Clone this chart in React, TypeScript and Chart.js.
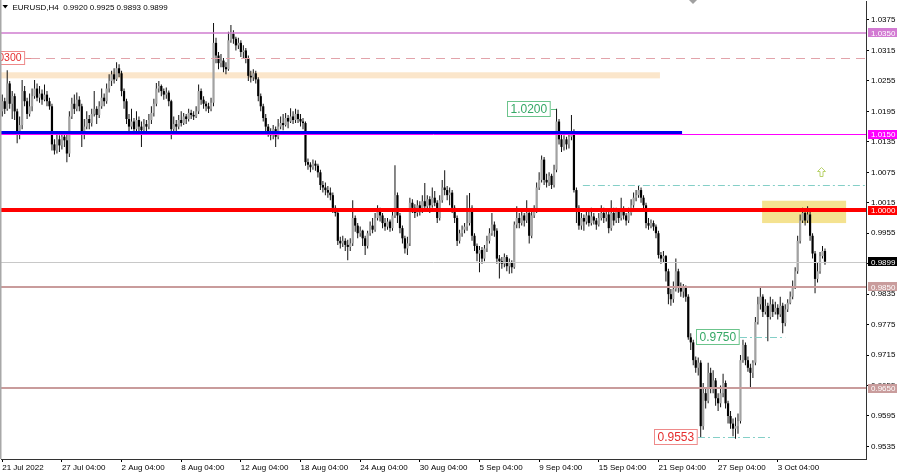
import React, { useEffect, useRef } from "react";
import { Chart, registerables } from "chart.js";

Chart.register(...registerables);

// ---------- axis data ----------
const SLOT_COUNT = 348;
const X_TICK_INDEX = [0, 24, 48, 72, 96, 120, 144, 168, 192, 216, 240, 264, 288, 312];
const X_TICK_TEXT = [
  "21 Jul 2022", "27 Jul 04:00", "2 Aug 04:00", "8 Aug 04:00", "12 Aug 04:00", "18 Aug 04:00",
  "24 Aug 04:00", "30 Aug 04:00", "5 Sep 04:00", "9 Sep 04:00", "15 Sep 04:00", "21 Sep 04:00",
  "27 Sep 04:00", "3 Oct 04:00",
];
const Y_TICKS = [1.0375, 1.0315, 1.0255, 1.0195, 1.0135, 1.0075, 1.0015, 0.9955, 0.9895, 0.9835, 0.9775, 0.9715, 0.9655, 0.9595, 0.9535];
const Y_MIN = 0.95103;
const Y_MAX = 1.04124;

// ---------- EURUSD H4 candles (price * 10000) ----------
const OPEN = [
  10195,10215,10200,10250,10210,10225,10195,10150,10168,10235,
  10215,10190,10205,10225,10240,10222,10230,10218,10228,10215,
  10205,10130,10118,10140,10128,10145,10138,10112,10185,10210,
  10200,10218,10205,10150,10165,10180,10172,10190,10200,10188,
  10205,10222,10215,10240,10255,10268,10258,10280,10270,10235,
  10215,10180,10165,10175,10160,10178,10165,10158,10170,10165,
  10178,10192,10210,10240,10245,10235,10228,10232,10215,10160,
  10170,10165,10178,10172,10185,10180,10192,10188,10185,10195,
  10235,10218,10210,10205,10200,10212,10330,10305,10290,10295,
  10282,10278,10335,10348,10338,10325,10330,10312,10315,10300,
  10265,10262,10270,10258,10225,10205,10182,10165,10155,10148,
  10160,10145,10165,10172,10168,10182,10175,10185,10178,10190,
  10180,10175,10172,10095,10090,10085,10092,10088,10075,10050,
  10045,10040,10035,10030,10005,9995,9940,9935,9940,9932,
  9928,9935,9985,9970,9955,9960,9945,9930,9955,9970,
  9962,9985,9998,9990,9975,9968,9978,9965,9990,10030,
  9990,9965,9945,9925,9935,10015,10005,9995,10010,10000,
  10018,10008,10022,10010,10025,10015,9985,10020,10045,10040,
  10030,10035,10005,9985,9940,9955,9962,9968,9975,10005,
  9950,9930,9915,9922,9905,9925,9940,9955,9972,9960,
  9905,9900,9895,9908,9890,9898,9888,9972,9985,9975,
  9990,9980,9995,9950,9990,10000,10045,10060,10100,10060,
  10055,10068,10050,10080,10175,10140,10125,10140,10130,10145,
  10155,10040,10005,9970,9985,9978,9990,9975,9988,9980,
  9972,9985,9995,9985,9992,9965,9995,9980,9998,9985,
  10000,9990,9980,9995,10010,10025,10030,10040,10025,10010,
  9975,9970,9975,9968,9955,9912,9905,9910,9880,9835,
  9825,9845,9880,9850,9840,9848,9830,9750,9740,9705,
  9690,9700,9575,9640,9625,9680,9650,9665,9630,9620,
  9640,9660,9620,9595,9580,9570,9575,9585,9705,9735,
  9705,9690,9680,9700,9780,9815,9830,9800,9812,9790,
  9815,9800,9808,9795,9812,9778,9805,9818,9830,9850,
  9880,9940,9980,9995,9980,9992,9950,9915,9865,9880,
  9910,9920,
];
const HIGH = [
  10228,10222,10276,10255,10235,10230,10200,10185,10257,10245,
  10222,10230,10240,10257,10250,10245,10238,10248,10235,10222,
  10210,10140,10150,10148,10155,10150,10150,10195,10222,10228,
  10232,10225,10210,10180,10195,10188,10200,10235,10205,10215,
  10240,10230,10250,10268,10275,10280,10292,10288,10275,10240,
  10220,10190,10200,10182,10195,10185,10175,10180,10178,10190,
  10205,10220,10251,10255,10248,10240,10242,10236,10218,10185,
  10178,10188,10195,10192,10190,10200,10198,10195,10205,10248,
  10240,10225,10215,10212,10222,10369,10340,10312,10308,10300,
  10292,10352,10365,10355,10342,10340,10335,10325,10320,10305,
  10275,10278,10275,10262,10230,10210,10190,10170,10162,10168,
  10165,10180,10185,10190,10192,10188,10201,10195,10200,10198,
  10190,10182,10175,10102,10095,10100,10098,10092,10080,10058,
  10055,10048,10045,10035,10010,9998,9948,9950,9945,9942,
  9945,10020,9990,9975,9968,9962,9950,9960,9978,9985,
  9995,10010,10005,9995,9985,9985,9982,10000,10089,10035,
  9995,9970,9950,9948,10025,10022,10012,10020,10018,10030,
  10054,10030,10028,10045,10038,10020,10030,10060,10079,10048,
  10045,10040,10010,9990,9962,9970,9975,10030,10034,10010,
  9955,9935,9930,9928,9932,9950,9965,9995,9978,9965,
  9912,9908,9915,9912,9905,9902,9978,10008,9995,10000,
  9995,10020,10000,10000,10010,10055,10075,10108,10105,10072,
  10075,10072,10090,10200,10180,10150,10148,10145,10152,10188,
  10160,10045,10010,9995,9992,10000,9998,10005,9995,9985,
  9995,10010,10005,10000,9998,10020,10005,10005,10002,10025,
  10008,9995,10005,10022,10035,10040,10050,10045,10030,10015,
  9985,9982,9980,9972,9960,9918,9920,9912,9885,9845,
  9860,9905,9885,9858,9855,9852,9835,9758,9745,9712,
  9710,9705,9660,9650,9700,9690,9685,9670,9640,9655,
  9678,9665,9625,9605,9590,9592,9600,9715,9745,9740,
  9712,9698,9705,9790,9830,9850,9835,9825,9818,9830,
  9825,9820,9815,9830,9818,9815,9825,9840,9862,9888,
  9950,9992,10005,10000,10008,10000,9955,9920,9898,9918,
  9930,9925,
];
const LOW = [
  10185,10190,10196,10200,10180,10178,10132,10140,10160,10205,
  10180,10185,10195,10220,10215,10212,10208,10215,10205,10198,
  10118,10110,10112,10115,10120,10125,10095,10105,10180,10190,
  10195,10195,10125,10140,10160,10160,10165,10185,10170,10182,
  10200,10205,10210,10232,10245,10250,10255,10262,10225,10200,
  10170,10155,10160,10150,10155,10155,10125,10150,10155,10160,
  10170,10185,10205,10232,10225,10218,10220,10205,10140,10155,
  10152,10160,10165,10168,10170,10175,10180,10178,10182,10190,
  10208,10200,10195,10192,10195,10205,10290,10278,10282,10272,
  10268,10275,10330,10328,10315,10318,10302,10300,10290,10255,
  10252,10255,10250,10215,10195,10175,10155,10145,10138,10140,
  10125,10140,10160,10158,10165,10162,10172,10170,10172,10172,
  10165,10160,10088,10080,10075,10080,10078,10065,10040,10035,
  10030,10025,10020,9995,9988,9932,9925,9928,9920,9902,
  9920,9930,9958,9945,9948,9930,9912,9925,9950,9955,
  9958,9980,9978,9965,9960,9962,9958,9960,9985,9975,
  9955,9935,9915,9912,9930,9995,9985,9988,9990,9995,
  10000,10000,9995,10005,10008,9975,9980,10015,10030,10020,
  10010,9995,9975,9930,9935,9948,9955,9960,9970,9940,
  9920,9900,9878,9895,9900,9918,9935,9950,9948,9895,
  9866,9885,9888,9880,9875,9876,9885,9965,9965,9970,
  9968,9975,9935,9945,9985,9995,10040,10055,10050,10045,
  10048,10042,10045,10075,10130,10115,10118,10120,10122,10138,
  10035,9975,9962,9962,9960,9972,9968,9970,9972,9962,
  9968,9980,9975,9978,9955,9960,9970,9975,9975,9980,
  9982,9970,9975,9990,10005,10018,10025,10015,10000,9965,
  9962,9965,9960,9945,9905,9895,9898,9860,9815,9812,
  9818,9840,9838,9830,9828,9820,9745,9725,9695,9680,
  9675,9553,9568,9610,9620,9640,9640,9615,9605,9612,
  9632,9610,9580,9570,9555,9550,9560,9580,9700,9695,
  9682,9648,9670,9695,9775,9805,9790,9795,9742,9785,
  9790,9795,9785,9790,9758,9772,9800,9815,9825,9845,
  9875,9935,9975,9970,9975,9940,9905,9837,9858,9875,
  9905,9893,
];
const CLOSE = [
  10215,10200,10250,10210,10225,10195,10150,10168,10235,10215,
  10190,10205,10225,10240,10222,10230,10218,10228,10215,10205,
  10130,10118,10140,10128,10145,10138,10112,10185,10210,10200,
  10218,10205,10150,10165,10180,10172,10190,10200,10188,10205,
  10222,10215,10240,10255,10268,10258,10280,10270,10235,10215,
  10180,10165,10175,10160,10178,10165,10158,10170,10165,10178,
  10192,10210,10240,10245,10235,10228,10232,10215,10160,10170,
  10165,10178,10172,10185,10180,10192,10188,10185,10195,10235,
  10218,10210,10205,10200,10212,10330,10305,10290,10295,10282,
  10278,10335,10348,10338,10325,10330,10312,10315,10300,10265,
  10262,10270,10258,10225,10205,10182,10165,10155,10148,10160,
  10145,10165,10172,10168,10182,10175,10185,10178,10190,10180,
  10175,10172,10095,10090,10085,10092,10088,10075,10050,10045,
  10040,10035,10030,10005,9995,9940,9935,9940,9932,9928,
  9935,9985,9970,9955,9960,9945,9930,9955,9970,9962,
  9985,9998,9990,9975,9968,9978,9965,9990,10030,9990,
  9965,9945,9925,9935,10015,10005,9995,10010,10000,10018,
  10008,10022,10010,10025,10015,9985,10020,10045,10040,10030,
  10035,10005,9985,9940,9955,9962,9968,9975,10005,9950,
  9930,9915,9922,9905,9925,9940,9955,9972,9960,9905,
  9900,9895,9908,9890,9898,9888,9972,9985,9975,9990,
  9980,9995,9950,9990,10000,10045,10060,10100,10060,10055,
  10068,10050,10080,10175,10140,10125,10140,10130,10145,10155,
  10040,10005,9970,9985,9978,9990,9975,9988,9980,9972,
  9985,9995,9985,9992,9965,9995,9980,9998,9985,10000,
  9990,9980,9995,10010,10025,10030,10040,10025,10010,9975,
  9970,9975,9968,9955,9912,9905,9910,9880,9835,9825,
  9845,9880,9850,9840,9848,9830,9750,9740,9705,9690,
  9700,9575,9640,9625,9680,9650,9665,9630,9620,9640,
  9660,9620,9595,9580,9570,9575,9585,9705,9735,9705,
  9690,9680,9700,9780,9815,9830,9800,9812,9790,9815,
  9800,9808,9795,9812,9778,9805,9818,9830,9850,9880,
  9940,9980,9995,9980,9992,9950,9915,9865,9880,9910,
  9920,9899,
];

// ---------- chart objects (prices / bar indices) ----------
const LEVEL_TOP_PINK = 1.035;
const LEVEL_DASHED = 1.03;
const LEVEL_MAGENTA = 1.015;
const LEVEL_BLUE = 1.01535;
const BLUE_END_INDEX = 273.5;
const LEVEL_CYAN = 1.005;
const CYAN_START_INDEX = 233.6;
const LEVEL_PARITY = 1.0;
const LEVEL_LAST = 0.9899;
const LEVEL_ROSE_1 = 0.985;
const LEVEL_ROSE_2 = 0.965;
const BAND_TOP = 1.0272;
const BAND_BOTTOM = 1.026;
const BAND_END_INDEX = 264.6;
const BOX_TOP = 1.0019;
const BOX_BOTTOM = 0.9975;
const BOX_START_INDEX = 305.7;
const BOX_END_INDEX = 339.5;
const LABEL_1_0300 = { text: "1.0300", value: 1.03, rightIndex: 9.2 };
const LABEL_1_0200 = { text: "1.0200", value: 1.02, rightIndex: 220.8 };
const LABEL_0_9750 = { text: "0.9750", value: 0.975, rightIndex: 296.8, lineEndIndex: 315 };
const LABEL_0_9553 = { text: "0.9553", value: 0.9553, rightIndex: 279.9, lineEndIndex: 310 };
const ARROW_INDEX = 329.4;
const ARROW_VALUE = 1.0085;
const HEADER = "EURUSD,H4  0.9920 0.9925 0.9893 0.9899";

const FONT_FAMILY = '"Liberation Sans", Arial, sans-serif';
const FONT_SMALL = "8px " + FONT_FAMILY;

function hLine(ctx: any, y: number, x1: number, x2: number, color: string, width: number, dash: number[] = []) {
  ctx.save();
  ctx.strokeStyle = color;
  ctx.lineWidth = width;
  ctx.setLineDash(dash);
  const yy = width % 2 === 1 ? Math.round(y) + 0.5 : Math.round(y);
  ctx.beginPath();
  ctx.moveTo(x1, yy);
  ctx.lineTo(x2, yy);
  ctx.stroke();
  ctx.restore();
}

function textBox(ctx: any, text: string, rightX: number, cy: number, textColor: string, borderColor: string, size: number, h: number) {
  ctx.save();
  ctx.font = size + "px " + FONT_FAMILY;
  const w = ctx.measureText(text).width + 7;
  const left = Math.round(rightX - w);
  const top = Math.round(cy - h / 2);
  ctx.fillStyle = "#ffffff";
  ctx.fillRect(left, top, w, h);
  ctx.strokeStyle = borderColor;
  ctx.lineWidth = 1;
  ctx.strokeRect(left + 0.5, top + 0.5, w - 1, h - 1);
  ctx.fillStyle = textColor;
  ctx.textBaseline = "middle";
  ctx.textAlign = "left";
  ctx.fillText(text, left + 3.5, top + h / 2 + 0.5);
  ctx.restore();
  return left;
}

function axisTag(ctx: any, text: string, x: number, cy: number, bg: string) {
  ctx.save();
  ctx.fillStyle = bg;
  ctx.fillRect(x + 2, Math.round(cy - 4.5), 29, 9);
  ctx.fillStyle = "#ffffff";
  ctx.font = FONT_SMALL;
  ctx.textBaseline = "middle";
  ctx.textAlign = "left";
  ctx.fillText(text, x + 5, Math.round(cy) + 0.5);
  ctx.restore();
}

const overlayPlugin = {
  id: "mt4Overlay",
  beforeDatasetsDraw(chart: any) {
    const { ctx, chartArea: a, scales } = chart;
    const x = scales.x;
    const y = scales.y;
    ctx.save();
    const bx2 = x.getPixelForValue(BAND_END_INDEX);
    const by1 = y.getPixelForValue(BAND_TOP);
    const by2 = y.getPixelForValue(BAND_BOTTOM);
    ctx.fillStyle = "#fbe6cb";
    ctx.fillRect(a.left, by1, bx2 - a.left, by2 - by1);
    const yx1 = x.getPixelForValue(BOX_START_INDEX);
    const yx2 = x.getPixelForValue(BOX_END_INDEX);
    const yy1 = y.getPixelForValue(BOX_TOP);
    const yy2 = y.getPixelForValue(BOX_BOTTOM);
    ctx.fillStyle = "#f4e290";
    ctx.fillRect(yx1, yy1, yx2 - yx1, yy2 - yy1);
    ctx.restore();
  },
  afterDatasetsDraw(chart: any) {
    const { ctx, chartArea: a, scales } = chart;
    const x = scales.x;
    const y = scales.y;
    const L = a.left;
    const R = a.right;
    hLine(ctx, y.getPixelForValue(LEVEL_TOP_PINK), L, R, "#cf7ccf", 1.5);
    hLine(ctx, y.getPixelForValue(LEVEL_DASHED), L, R, "#e2a3aa", 1, [9, 6]);
    hLine(ctx, y.getPixelForValue(LEVEL_MAGENTA), L, R, "#ff00ff", 1);
    hLine(ctx, y.getPixelForValue(LEVEL_BLUE), L, x.getPixelForValue(BLUE_END_INDEX), "#0000ee", 3);
    hLine(ctx, y.getPixelForValue(LEVEL_CYAN), x.getPixelForValue(CYAN_START_INDEX), R, "#84cfc7", 1, [7, 3, 2, 3]);
    hLine(ctx, y.getPixelForValue(LEVEL_PARITY), L, R, "#ff0000", 4);
    hLine(ctx, y.getPixelForValue(LEVEL_LAST), L, R, "#c8c8c8", 1);
    hLine(ctx, y.getPixelForValue(LEVEL_ROSE_1), L, R, "#c99c9c", 2);
    hLine(ctx, y.getPixelForValue(LEVEL_ROSE_2), L, R, "#c99c9c", 2);

    const r1 = x.getPixelForValue(LABEL_1_0300.rightIndex);
    const y1 = y.getPixelForValue(LABEL_1_0300.value);
    hLine(ctx, y1, r1, r1 + 6, "#e98a8a", 1);
    textBox(ctx, LABEL_1_0300.text, r1, y1, "#e52e2e", "#ee8a8a", 10.5, 14);

    const r2 = x.getPixelForValue(LABEL_1_0200.rightIndex);
    const y2 = y.getPixelForValue(LABEL_1_0200.value);
    hLine(ctx, y2, r2, r2 + 5, "#5cbf80", 1);
    textBox(ctx, LABEL_1_0200.text, r2, y2, "#35a865", "#6cc48c", 12, 16);

    const r3 = x.getPixelForValue(LABEL_0_9750.rightIndex);
    const y3 = y.getPixelForValue(LABEL_0_9750.value);
    hLine(ctx, y3, r3, x.getPixelForValue(LABEL_0_9750.lineEndIndex), "#84cfc7", 1, [7, 3, 2, 3]);
    textBox(ctx, LABEL_0_9750.text, r3, y3, "#35a865", "#6cc48c", 12, 16);

    const r4 = x.getPixelForValue(LABEL_0_9553.rightIndex);
    const y4 = y.getPixelForValue(LABEL_0_9553.value);
    hLine(ctx, y4, r4, x.getPixelForValue(LABEL_0_9553.lineEndIndex), "#84cfc7", 1, [7, 3, 2, 3]);
    textBox(ctx, LABEL_0_9553.text, r4, y4, "#e52e2e", "#ee8a8a", 12, 16);

    const ax = Math.round(x.getPixelForValue(ARROW_INDEX)) + 0.5;
    const at = Math.round(y.getPixelForValue(ARROW_VALUE)) + 0.5;
    ctx.save();
    ctx.strokeStyle = "#b9d26c";
    ctx.lineWidth = 1;
    ctx.beginPath();
    ctx.moveTo(ax, at);
    ctx.lineTo(ax + 4, at + 4);
    ctx.lineTo(ax + 1.5, at + 4);
    ctx.lineTo(ax + 1.5, at + 9);
    ctx.lineTo(ax - 1.5, at + 9);
    ctx.lineTo(ax - 1.5, at + 4);
    ctx.lineTo(ax - 4, at + 4);
    ctx.closePath();
    ctx.stroke();
    ctx.restore();
  },
  afterDraw(chart: any) {
    const { ctx, chartArea: a, scales } = chart;
    const y = scales.y;
    const R = a.right;
    axisTag(ctx, "1.0350", R, y.getPixelForValue(LEVEL_TOP_PINK), "#d27ad2");
    axisTag(ctx, "1.0150", R, y.getPixelForValue(LEVEL_MAGENTA), "#ff00ff");
    axisTag(ctx, "1.0000", R, y.getPixelForValue(LEVEL_PARITY), "#ff0000");
    axisTag(ctx, "0.9899", R, y.getPixelForValue(LEVEL_LAST), "#000000");
    axisTag(ctx, "0.9850", R, y.getPixelForValue(LEVEL_ROSE_1), "#c99c9c");
    axisTag(ctx, "0.9650", R, y.getPixelForValue(LEVEL_ROSE_2), "#c99c9c");

    ctx.save();
    ctx.fillStyle = "#a8a8a8";
    ctx.fillRect(0, 0, 1.5, a.bottom);
    ctx.fillStyle = "#000";
    ctx.beginPath();
    ctx.moveTo(2.5, 5);
    ctx.lineTo(8, 5);
    ctx.lineTo(5.25, 8.5);
    ctx.closePath();
    ctx.fill();
    ctx.font = FONT_SMALL;
    ctx.textBaseline = "middle";
    ctx.textAlign = "left";
    ctx.fillText(HEADER, 12.5, 7.5);
    ctx.fillStyle = "#a0a0a0";
    ctx.beginPath();
    ctx.moveTo(689, 0);
    ctx.lineTo(697, 0);
    ctx.lineTo(693, 4);
    ctx.closePath();
    ctx.fill();
    ctx.restore();
  },
};

export default function App() {
  const canvasRef = useRef<HTMLCanvasElement | null>(null);

  useEffect(() => {
    const canvas = canvasRef.current;
    if (!canvas) return;
    const labels = Array.from({ length: SLOT_COUNT }, (_, i) => String(i));
    const bodies = OPEN.map((o, i) => [o / 10000, CLOSE[i] / 10000]);
    const wicks = OPEN.map((_, i) => [LOW[i] / 10000, HIGH[i] / 10000]);
    const bodyColors = OPEN.map((o, i) => (CLOSE[i] >= o ? "#a2a2a2" : "#000000"));
    const tickMap: Record<number, string> = {};
    X_TICK_INDEX.forEach((idx, k) => (tickMap[idx] = X_TICK_TEXT[k]));

    const chart = new Chart(canvas, {
      type: "bar",
      data: {
        labels,
        datasets: [
          {
            label: "body",
            data: bodies as any,
            backgroundColor: bodyColors,
            borderWidth: 0,
            barThickness: 2.2,
            grouped: false,
            inflateAmount: 0,
            order: 0,
          } as any,
          {
            label: "wick",
            data: wicks as any,
            backgroundColor: "#111111",
            borderWidth: 0,
            barThickness: 1,
            grouped: false,
            inflateAmount: 0,
            order: 1,
          } as any,
        ],
      },
      options: {
        animation: false,
        responsive: false,
        devicePixelRatio: 1,
        layout: { padding: { left: 1, top: 1, right: 0, bottom: 0 } },
        plugins: { legend: { display: false }, tooltip: { enabled: false } },
        events: [],
        scales: {
          x: {
            type: "category",
            offset: true,
            afterBuildTicks: (s: any) => {
              s.ticks = X_TICK_INDEX.map((v) => ({ value: v }));
            },
            afterFit: (s: any) => {
              s.height = 13;
              s.paddingLeft = 0;
              s.paddingRight = 0;
            },
            grid: { offset: false, drawOnChartArea: false, drawTicks: true, tickLength: 3, color: "#000", tickColor: "#000" },
            border: { display: true, color: "#333" },
            ticks: {
              autoSkip: false,
              maxRotation: 0,
              minRotation: 0,
              align: "start",
              padding: 1,
              color: "#000",
              font: { family: FONT_FAMILY, size: 8 },
              callback: (v: any) => tickMap[v] ?? "",
            },
          },
          y: {
            type: "linear",
            position: "right",
            min: Y_MIN,
            max: Y_MAX,
            afterBuildTicks: (s: any) => {
              s.ticks = Y_TICKS.map((v) => ({ value: v }));
            },
            afterFit: (s: any) => {
              s.width = 34;
              s.paddingTop = 0;
              s.paddingBottom = 0;
            },
            grid: { drawOnChartArea: false, drawTicks: true, tickLength: 3, color: "#000", tickColor: "#000" },
            border: { display: true, color: "#333" },
            ticks: {
              padding: 2,
              color: "#000",
              font: { family: FONT_FAMILY, size: 8 },
              callback: (v: any) => Number(v).toFixed(4),
            },
          },
        },
      } as any,
      plugins: [overlayPlugin],
    });
    return () => chart.destroy();
  }, []);

  return (
    <div style={{ position: "absolute", left: 0, top: 0, width: 900, height: 472, background: "#fff" }}>
      <canvas ref={canvasRef} width={900} height={472} style={{ display: "block", width: 900, height: 472 }} />
    </div>
  );
}
